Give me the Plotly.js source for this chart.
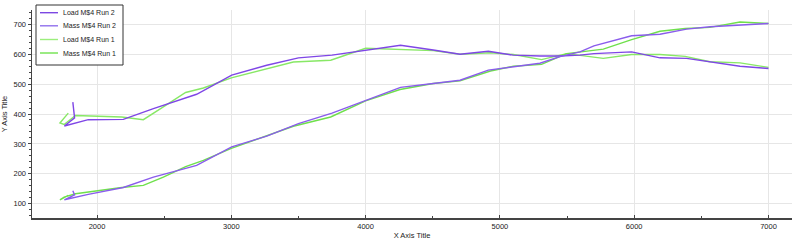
<!DOCTYPE html>
<html>
<head>
<meta charset="utf-8">
<script src="https://cdn.plot.ly/plotly-3.0.1.min.js"></script>
<style>
html,body{margin:0;padding:0;background:#fff;}
#chart{width:800px;height:242px;}
</style>
</head>
<body>
<div id="chart"></div>
<script>
// Run 2 (purple)
var run2Rpm  = [1820, 1833, 1757, 1935, 2196, 2420, 2742, 3003, 3264, 3500, 3750, 4008, 4260, 4504, 4703, 4914, 5100, 5298, 5447, 5596, 5700, 5981, 6192, 6390, 6564, 6788, 7000];
var run2Load = [440, 387, 360, 381, 382, 418, 466, 530, 563, 588, 597, 613, 630, 614, 600, 610, 597, 594, 594, 597, 602, 608, 588, 586, 575, 560, 552];
var run2Mass = [143, 129, 113, 131, 154, 189, 228, 290, 326, 368, 403, 446, 489, 502, 513, 547, 558, 570, 592, 608, 628, 662, 667, 684, 692, 697, 703];
// Run 1 (green)
var run1Rpm  = [1786, 1724, 1755, 1840, 2184, 2345, 2494, 2660, 2792, 3000, 3462, 3740, 4000, 4256, 4504, 4703, 4930, 5100, 5310, 5497, 5770, 5981, 6192, 6380, 6564, 6788, 7000];
var run1Load = [403, 370, 365, 395, 390, 381, 424, 472, 487, 521, 574, 580, 620, 617, 612, 600, 605, 599, 582, 602, 586, 599, 599, 593, 575, 571, 556];
var run1Mass = [128, 113, 122, 133, 154, 161, 189, 224, 245, 285, 359, 390, 444, 482, 502, 511, 544, 560, 566, 602, 617, 649, 677, 686, 690, 708, 703];

var seriesNames = ['Load M$4 Run 2', 'Mass M$4 Run 2', 'Load M$4 Run 1', 'Mass M$4 Run 1'];
var seriesColors = ['#7c48e2', '#9070ec', '#9cee7c', '#70e24e'];
var xTitle = 'X Axis Title';
var yTitle = 'Y Axis Title';

var fam = 'Liberation Sans, Arial, sans-serif';

var traces = [
  {x: run1Rpm, y: run1Load, name: seriesNames[2], line: {color: '#88e866', width: 1.4}},
  {x: run1Rpm, y: run1Mass, name: seriesNames[3], line: {color: '#6fe04c', width: 1.4}},
  {x: run2Rpm, y: run2Load, name: seriesNames[0], line: {color: '#7f46e6', width: 1.4}},
  {x: run2Rpm, y: run2Mass, name: seriesNames[1], line: {color: '#8a5cec', width: 1.4}}
].map(function(t){ t.mode = 'lines'; t.type = 'scatter'; t.showlegend = false; return t; });

// Compact legend box drawn in paper coordinates (plot area: x 32..792 px, y 10..218 px)
function px2x(px){ return (px - 32) / 760; }
function py2y(py){ return (218 - py) / 208; }
var shapes = [{
  type: 'rect', xref: 'paper', yref: 'paper',
  x0: px2x(36), x1: px2x(123), y0: py2y(65), y1: py2y(5),
  line: {color: '#333', width: 1}, fillcolor: '#ffffff', layer: 'above'
}];
var annotations = [];
var itemY = [12.7, 25.8, 39.5, 53];
seriesNames.forEach(function(n, i){
  shapes.push({type: 'line', xref: 'paper', yref: 'paper',
    x0: px2x(40), x1: px2x(58), y0: py2y(itemY[i]), y1: py2y(itemY[i]),
    line: {color: seriesColors[i], width: 1.4}, layer: 'above'});
  annotations.push({xref: 'paper', yref: 'paper', x: px2x(61), y: py2y(itemY[i]),
    xanchor: 'left', yanchor: 'middle', text: n, showarrow: false,
    font: {family: fam, size: 7, color: '#222'}});
});

var layout = {
  width: 800, height: 242,
  margin: {l: 32, r: 8, t: 10, b: 24},
  paper_bgcolor: '#ffffff',
  plot_bgcolor: '#ffffff',
  font: {family: fam, size: 7, color: '#222'},
  showlegend: false,
  shapes: shapes,
  annotations: annotations,
  xaxis: {
    range: [1516, 7175],
    tickvals: [2000, 3000, 4000, 5000, 6000, 7000],
    ticks: 'inside', ticklen: 3, tickcolor: '#444',
    minor: {dtick: 500, tick0: 0, ticks: 'inside', ticklen: 2, tickcolor: '#444', showgrid: false},
    showline: true, linecolor: '#444', linewidth: 1.5,
    showgrid: true, gridcolor: '#e6e6e6', gridwidth: 1,
    zeroline: false,
    tickfont: {family: fam, size: 7.5, color: '#222'},
    title: {text: xTitle, standoff: 3, font: {family: fam, size: 7.5, color: '#222'}}
  },
  yaxis: {
    range: [52, 748],
    tickvals: [100, 200, 300, 400, 500, 600, 700],
    ticks: 'outside', ticklen: 3, tickcolor: '#444',
    minor: {dtick: 20, tick0: 0, ticks: 'outside', ticklen: 2, tickcolor: '#444', showgrid: false},
    showline: true, linecolor: '#444', linewidth: 1.5,
    showgrid: true, gridcolor: '#e6e6e6', gridwidth: 1,
    zeroline: false,
    tickfont: {family: fam, size: 7.5, color: '#222'},
    title: {text: yTitle, standoff: 6, font: {family: fam, size: 7.5, color: '#222'}}
  }
};

Plotly.newPlot('chart', traces, layout, {displayModeBar: false, staticPlot: true});
</script>
</body>
</html>
